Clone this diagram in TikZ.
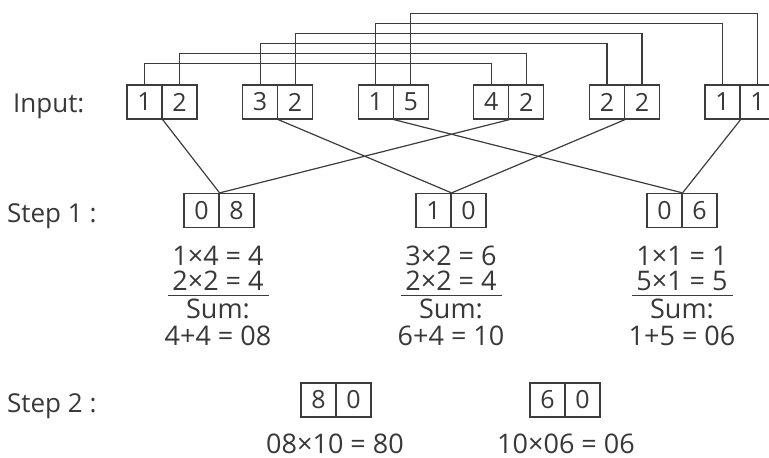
\documentclass[tikz,border=0pt]{standalone}
\usepackage{fontspec}
\setmainfont{Open Sans}
\definecolor{linec}{HTML}{3C3C3C}
\definecolor{txt}{HTML}{383838}
\begin{document}
\begin{tikzpicture}[x=1pt,y=-1pt,
  cell/.style={draw=linec, line width=1.2pt, minimum width=35pt, minimum height=34pt, inner sep=0pt, text=txt, font=\fontsize{25}{25}\selectfont},
  lbl/.style={text=txt, anchor=base west, inner sep=0pt, font=\fontsize{26}{26}\selectfont},
  eq/.style={text=txt, anchor=base, inner sep=0pt, font=\fontsize{27}{27}\selectfont},
  wire/.style={draw=linec, line width=1.2pt}]
\useasboundingbox (0,0) rectangle (769,458);
% labels
\node[lbl] (linput) at (13,112) {Input:};
\node[lbl] (lstep1) at (7,222) {Step 1 :};
\node[lbl] (lstep2) at (7,412) {Step 2 :};
% input pairs
\node[cell] (p1a) at (144.5,102) {1}; \node[cell] (p1b) at (179.5,102) {2};
\node[cell] (p2a) at (260.1,102) {3}; \node[cell] (p2b) at (295.1,102) {2};
\node[cell] (p3a) at (375.7,102) {1}; \node[cell] (p3b) at (410.7,102) {5};
\node[cell] (p4a) at (491.3,102) {4}; \node[cell] (p4b) at (526.3,102) {2};
\node[cell] (p5a) at (606.9,102) {2}; \node[cell] (p5b) at (641.9,102) {2};
\node[cell] (p6a) at (722.5,102) {1}; \node[cell] (p6b) at (757.5,102) {1};
% top connection levels
\coordinate (lv1) at (0,63.5);
\coordinate (lv2) at (0,53.5);
\coordinate (lv3) at (0,43.5);
\coordinate (lv4) at (0,33.5);
\coordinate (lv5) at (0,23.5);
\coordinate (lv6) at (0,13.5);
\draw[wire] (p1a.north) -- (p1a.north |- lv1) -- (p4a.north |- lv1) -- (p4a.north);
\draw[wire] (p1b.north) -- (p1b.north |- lv2) -- (p4b.north |- lv2) -- (p4b.north);
\draw[wire] (p2a.north) -- (p2a.north |- lv3) -- (p5a.north |- lv3) -- (p5a.north);
\draw[wire] (p2b.north) -- (p2b.north |- lv4) -- (p5b.north |- lv4) -- (p5b.north);
\draw[wire] (p3a.north) -- (p3a.north |- lv5) -- (p6a.north |- lv5) -- (p6a.north);
\draw[wire] (p3b.north) -- (p3b.north |- lv6) -- (p6b.north |- lv6) -- (p6b.north);
% step 1 boxes
\node[cell] (s1a) at (201.5,210.5) {0}; \node[cell] (s1b) at (236.5,210.5) {8};
\node[cell] (s2a) at (433.5,210.5) {1}; \node[cell] (s2b) at (468.5,210.5) {0};
\node[cell] (s3a) at (664.5,210.5) {0}; \node[cell] (s3b) at (699.5,210.5) {6};
% crossing lines
\draw[wire] (p1a.south east) -- (s1a.north east);
\draw[wire] (p4a.south east) -- (s1a.north east);
\draw[wire] (p2a.south east) -- (s2a.north east);
\draw[wire] (p5a.south east) -- (s2a.north east);
\draw[wire] (p3a.south east) -- (s3a.north east);
\draw[wire] (p6a.south east) -- (s3a.north east);
% step 1 equations
\node[eq] (e11) at (218,265) {1×4 = 4};
\node[eq] (e12) at (218,290) {2×2 = 4};
\node[eq] (e13) at (218,318) {Sum:};
\node[eq] (e14) at (218,345) {4+4 = 08};
\node[eq] (e21) at (451,265) {3×2 = 6};
\node[eq] (e22) at (451,290) {2×2 = 4};
\node[eq] (e23) at (451,318) {Sum:};
\node[eq] (e24) at (451,345) {6+4 = 10};
\node[eq] (e31) at (682,265) {1×1 = 1};
\node[eq] (e32) at (682,290) {5×1 = 5};
\node[eq] (e33) at (682,318) {Sum:};
\node[eq] (e34) at (682,345) {1+5 = 06};
\draw[wire] ([xshift=-50.5pt,yshift=-5.5pt]e12.base) -- ([xshift=50.5pt,yshift=-5.5pt]e12.base);
\draw[wire] ([xshift=-50.5pt,yshift=-5.5pt]e22.base) -- ([xshift=50.5pt,yshift=-5.5pt]e22.base);
\draw[wire] ([xshift=-50.5pt,yshift=-5.5pt]e32.base) -- ([xshift=50.5pt,yshift=-5.5pt]e32.base);
% step 2
\node[cell] (t1a) at (318.5,400) {8}; \node[cell] (t1b) at (353.5,400) {0};
\node[cell] (t2a) at (547.5,400) {6}; \node[cell] (t2b) at (582.5,400) {0};
\node[eq] (f1) at (335,453) {08×10 = 80};
\node[eq] (f2) at (566,453) {10×06 = 06};
\end{tikzpicture}
\end{document}
